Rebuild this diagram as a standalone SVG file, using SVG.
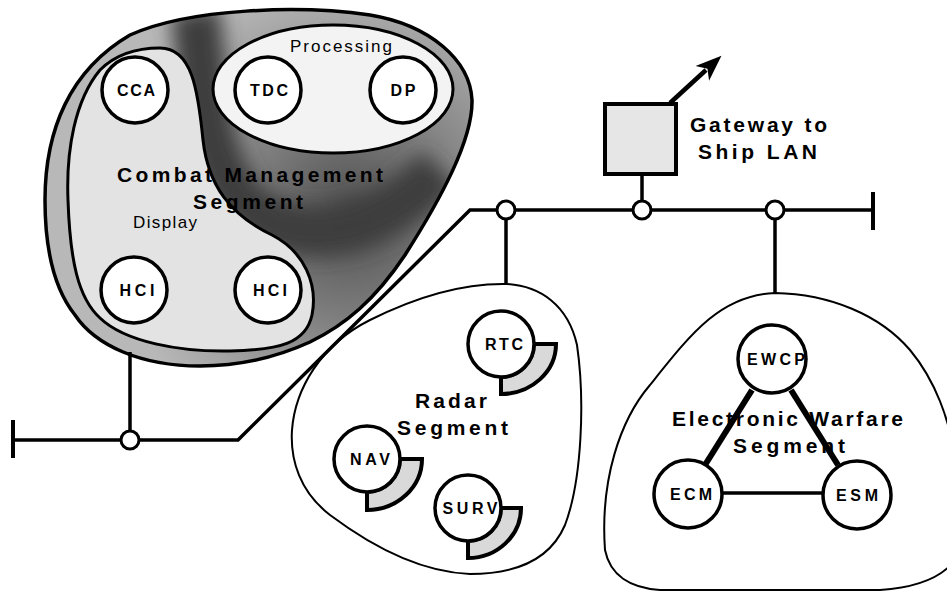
<svg xmlns="http://www.w3.org/2000/svg" width="947" height="592" viewBox="0 0 947 592">
<style>
  .bg{fill:#ffffff}
  .node{fill:#ffffff;stroke:#000;stroke-width:3.5}
  .nlabel{font-family:"Liberation Sans",Arial,sans-serif;font-weight:bold;font-size:16px;fill:#000;text-anchor:middle}
  .seg{font-family:"Liberation Sans",Arial,sans-serif;font-weight:bold;font-size:21px;fill:#000}
  .sub{font-family:"Liberation Sans",Arial,sans-serif;font-size:17px;fill:#000}
  .blob{fill:#ffffff;stroke:#000;stroke-width:2}
  .ring{fill:#d9d9d9;stroke:#000;stroke-width:4;stroke-linejoin:miter}
  .bus{fill:none;stroke:#000;stroke-width:3.5}
  .tap{fill:#ffffff;stroke:#000;stroke-width:3}
  .cap{stroke:#000;stroke-width:4}
  .thick{stroke:#000;stroke-width:6;fill:none}
  .thin{stroke:#000;stroke-width:3.5;fill:none}
</style>
<defs>
  <radialGradient id="cmsGrad" gradientUnits="userSpaceOnUse" cx="350" cy="215" r="240">
    <stop offset="0" stop-color="#4e4e4e"/>
    <stop offset="0.5" stop-color="#868686"/>
    <stop offset="1" stop-color="#b8b8b8"/>
  </radialGradient>
  <filter id="blur" x="-20%" y="-20%" width="140%" height="140%">
    <feGaussianBlur stdDeviation="10"/>
  </filter>
  <clipPath id="cmsClip">
    <path d="M 45,200 C 45,130 70,70 130,35 C 190,8 300,5 370,15 C 430,25 470,60 472,100 C 473,140 440,200 405,255 C 375,300 345,325 310,342 C 275,358 240,366 200,366 C 140,366 95,345 75,315 C 55,290 45,250 45,200 Z"/>
  </clipPath>
  <marker id="arrow" markerUnits="userSpaceOnUse" markerWidth="28" markerHeight="22" viewBox="0 0 28 22" refX="5" refY="11" orient="auto">
    <path d="M0,1 L26,11 L0,21 L7,11 Z" fill="#000"/>
  </marker>
</defs>
<rect class="bg" x="0" y="0" width="947" height="592"/>

<!-- Combat Management Segment -->
<g id="cms-segment">
  <path d="M 45,200 C 45,130 70,70 130,35 C 190,8 300,5 370,15 C 430,25 470,60 472,100 C 473,140 440,200 405,255 C 375,300 345,325 310,342 C 275,358 240,366 200,366 C 140,366 95,345 75,315 C 55,290 45,250 45,200 Z" fill="url(#cmsGrad)"/>
  <g clip-path="url(#cmsClip)">
    <path d="M 195,10 C 205,80 200,150 240,200 C 290,250 370,240 440,170" fill="none" stroke="#3c3c3c" stroke-width="50" filter="url(#blur)"/>
  </g>
  <path d="M 45,200 C 45,130 70,70 130,35 C 190,8 300,5 370,15 C 430,25 470,60 472,100 C 473,140 440,200 405,255 C 375,300 345,325 310,342 C 275,358 240,366 200,366 C 140,366 95,345 75,315 C 55,290 45,250 45,200 Z" fill="none" stroke="#000" stroke-width="3.5"/>
  <path id="display-area" d="M 160,48 C 192,48 198,90 203,140 C 208,185 230,215 272,235 C 305,252 318,285 312,315 C 306,343 280,350 230,351 C 180,352 125,342 100,318 C 78,298 70,260 68,200 C 66,150 75,100 100,70 C 115,55 135,48 160,48 Z" fill="#e3e3e3" stroke="#000" stroke-width="3"/>
  <ellipse id="processing-area" cx="333" cy="89" rx="120" ry="64" fill="#f3f3f3" stroke="#000" stroke-width="3"/>
  <text class="sub" x="290" y="52" textLength="102" lengthAdjust="spacing">Processing</text>
  <text class="sub" x="133" y="228" textLength="64" lengthAdjust="spacing">Display</text>
  <text class="seg" x="117" y="182" textLength="266" lengthAdjust="spacing">Combat Management</text>
  <text class="seg" x="193" y="209" textLength="110" lengthAdjust="spacing">Segment</text>
</g>

<!-- Radar Segment -->
<g id="radar-segment">
  <path class="blob" d="M 507,284 C 540,286 568,305 577,345 C 585,400 582,480 565,525 C 550,560 515,574 470,574 C 420,572 370,545 330,515 C 300,492 290,460 292,430 C 295,390 320,345 370,320 C 410,300 460,283 507,284 Z"/>
  <text class="seg" x="415" y="408" textLength="72" lengthAdjust="spacing">Radar</text>
  <text class="seg" x="397" y="435" textLength="111" lengthAdjust="spacing">Segment</text>
</g>

<!-- Electronic Warfare Segment -->
<g id="ew-segment">
  <path class="blob" d="M 775,293 C 830,294 880,315 910,350 C 935,380 950,420 955,460 L 955,560 C 940,580 910,588 880,590 L 660,590 C 630,588 610,575 605,550 C 600,480 620,420 650,385 C 690,335 720,295 775,293 Z"/>
  <text class="seg" x="672" y="426" textLength="231" lengthAdjust="spacing">Electronic Warfare</text>
  <text class="seg" x="733" y="453" textLength="112" lengthAdjust="spacing">Segment</text>
</g>

<!-- Gateway -->
<g id="gateway">
  <rect x="605" y="104" width="71" height="70" fill="#e6e6e6" stroke="#000" stroke-width="4"/>
  <text class="seg" x="690" y="132" textLength="137" lengthAdjust="spacing">Gateway to</text>
  <text class="seg" x="698" y="159" textLength="119" lengthAdjust="spacing">Ship LAN</text>
</g>

<!-- Connectors -->
<g id="connectors">
  <polyline class="bus" points="13,440 238,440 470,210 873,210"/>
  <line class="cap" x1="13" y1="420" x2="13" y2="458"/>
  <line class="cap" x1="873" y1="192" x2="873" y2="230"/>
  <line class="bus" x1="130" y1="352" x2="130" y2="431"/>
  <line class="bus" x1="506" y1="219" x2="506" y2="285"/>
  <line class="bus" x1="642" y1="175" x2="642" y2="201"/>
  <line class="bus" x1="775" y1="219" x2="775" y2="294"/>
  <line x1="670" y1="103" x2="706" y2="70" stroke="#000" stroke-width="4.5" marker-end="url(#arrow)"/>
  <circle class="tap" cx="130" cy="440" r="9"/>
  <circle class="tap" cx="506" cy="210" r="9"/>
  <circle class="tap" cx="642" cy="210" r="9"/>
  <circle class="tap" cx="775" cy="210" r="9"/>
  <line class="thick" x1="752" y1="390" x2="705" y2="465"/>
  <line class="thick" x1="791" y1="390" x2="838" y2="465"/>
  <line class="thin" x1="721" y1="493" x2="823" y2="493"/>
</g>

<!-- CMS nodes -->
<g id="node-cca"><circle class="node" cx="135" cy="90" r="33"/><text class="nlabel" x="136" y="96" textLength="38" lengthAdjust="spacing">CCA</text></g>
<g id="node-tdc"><circle class="node" cx="268" cy="90" r="33"/><text class="nlabel" x="269" y="96" textLength="38" lengthAdjust="spacing">TDC</text></g>
<g id="node-dp"><circle class="node" cx="403" cy="90" r="33"/><text class="nlabel" x="403" y="96" textLength="25" lengthAdjust="spacing">DP</text></g>
<g id="node-hci-1"><circle class="node" cx="134" cy="290" r="33"/><text class="nlabel" x="137" y="296" textLength="35" lengthAdjust="spacing">HCI</text></g>
<g id="node-hci-2"><circle class="node" cx="268" cy="290" r="33"/><text class="nlabel" x="270" y="296" textLength="34" lengthAdjust="spacing">HCI</text></g>

<!-- Radar nodes -->
<g id="node-rtc">
  <path class="ring" d="M 534,344 L 556,344 A 55 50 0 0 1 501,394 L 501,377 A 33 33 0 0 0 534,344 Z"/>
  <circle class="node" cx="501" cy="344" r="33"/>
  <text class="nlabel" x="504" y="350" textLength="38" lengthAdjust="spacing">RTC</text>
</g>
<g id="node-nav">
  <path class="ring" d="M 400,459 L 422,459 A 55 51 0 0 1 367,510 L 367,492 A 33 33 0 0 0 400,459 Z"/>
  <circle class="node" cx="367" cy="459" r="33"/>
  <text class="nlabel" x="370" y="465" textLength="40" lengthAdjust="spacing">NAV</text>
</g>
<g id="node-surv">
  <path class="ring" d="M 501,508 L 521,508 A 53 50 0 0 1 468,558 L 468,541 A 33 33 0 0 0 501,508 Z"/>
  <circle class="node" cx="468" cy="508" r="33"/>
  <text class="nlabel" x="470" y="514" textLength="55" lengthAdjust="spacing">SURV</text>
</g>

<!-- EW nodes -->
<g id="node-ewcp"><circle class="node" cx="772" cy="359" r="34"/><text class="nlabel" x="776" y="365" textLength="58" lengthAdjust="spacing">EWCP</text></g>
<g id="node-ecm"><circle class="node" cx="688" cy="494" r="34"/><text class="nlabel" x="691" y="500" textLength="42" lengthAdjust="spacing">ECM</text></g>
<g id="node-esm"><circle class="node" cx="857" cy="495" r="34"/><text class="nlabel" x="857" y="501" textLength="42" lengthAdjust="spacing">ESM</text></g>
</svg>
